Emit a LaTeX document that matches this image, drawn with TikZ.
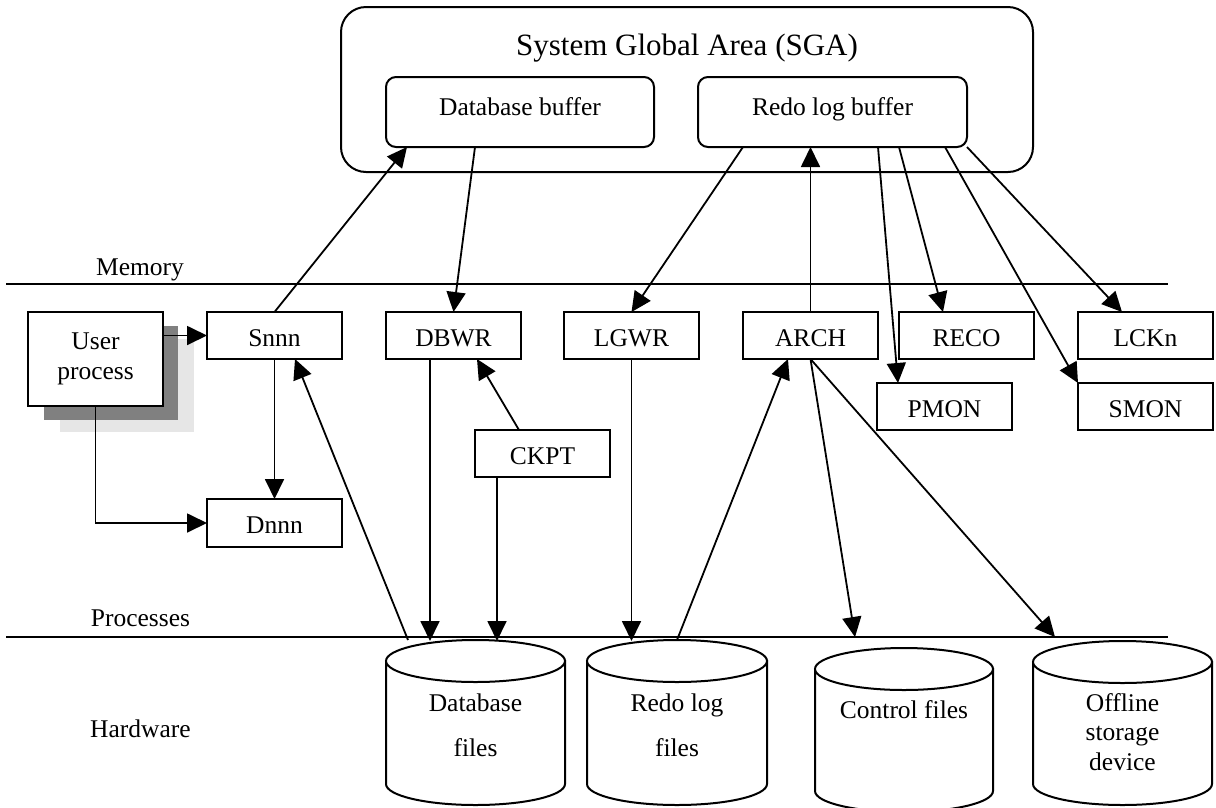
\documentclass[tikz,border=0pt]{standalone}
\usepackage{fontspec}
\setmainfont{Liberation Serif}
\usetikzlibrary{arrows.meta,calc}
\newcommand\mycyl[5]{%
  \draw[line width=2pt, fill=white] (#1-#2,#3) -- (#1-#2,#4)
    .. controls (#1-#2,#4+0.552*#5) and (#1-0.552*#2,#4+#5) .. (#1,#4+#5)
    .. controls (#1+0.552*#2,#4+#5) and (#1+#2,#4+0.552*#5) .. (#1+#2,#4)
    -- (#1+#2,#3) -- cycle;
  \draw[line width=2pt, fill=white] (#1,#3) ellipse [x radius=#2, y radius=#5];
}
\begin{document}
\begin{tikzpicture}[x=1pt,y=-1pt,
  lab/.style={font=\fontsize{25.5}{30}\selectfont},
  pbox/.style={draw, line width=2pt, fill=white, inner sep=0pt, outer sep=0pt,
    minimum width=135pt, lab},
  single/.style={minimum height=47pt, text height=21pt, text depth=0pt},
  rbox/.style={draw, line width=2pt, rounded corners=10pt, inner sep=0pt, outer sep=0pt, lab},
  conn/.style={line width=1.8pt, -{Triangle[length=20pt,width=19pt]}},
  sepline/.style={line width=1.8pt},
  shadowdark/.style={fill={rgb,255:red,128;green,128;blue,128}},
  shadowlight/.style={fill={rgb,255:red,230;green,230;blue,230}}
]
\useasboundingbox (0,0) rectangle (1216,807);

% SGA
\node[rbox, rounded corners=25pt, minimum width=692pt, minimum height=165pt,
  font=\fontsize{31}{36}\selectfont, text height=17pt, text depth=86pt]
  (sga) at (687,89.5) {System Global Area (SGA)};
\node[rbox, minimum width=268pt, minimum height=70pt, text height=18pt, text depth=12pt]
  (dbb) at (520,112) {Database buffer};
\node[rbox, minimum width=269pt, minimum height=70pt, text height=18pt, text depth=12pt]
  (rlb) at (832.5,112) {Redo log buffer};

% separator lines and labels
\draw[sepline] (6,284) -- (1168,284);
\draw[sepline] (6,637) -- (1168,637);
\node[lab, anchor=base] (memlab) at (140,275) {Memory};
\node[lab, anchor=base] (proclab) at (140.5,626) {Processes};
\node[lab, anchor=base] (hwlab) at (140.5,737) {Hardware};

% user process with shadows
\fill[shadowlight] (60,339) rectangle (194,432);
\fill[shadowdark] (44,326) rectangle (178,420);
\node[pbox, minimum height=94pt, align=center] (user) at (95.5,359) {User\\process};

% process boxes
\node[pbox, single] (snnn) at (274.5,335.5) {Snnn};
\node[pbox, single, minimum height=48pt] (dnnn) at (274.5,523) {Dnnn};
\node[pbox, single] (dbwr) at (453.5,335.5) {DBWR};
\node[pbox, single] (lgwr) at (631.5,335.5) {LGWR};
\node[pbox, single] (arch) at (810.5,335.5) {ARCH};
\node[pbox, single] (reco) at (966.5,335.5) {RECO};
\node[pbox, single] (lckn) at (1145.5,335.5) {LCKn};
\node[pbox, single] (ckpt) at (542.5,453.5) {CKPT};
\node[pbox, single] (pmon) at (944.5,406.5) {PMON};
\node[pbox, single] (smon) at (1145.5,406.5) {SMON};

% cylinders
\mycyl{475.5}{89.5}{661}{784}{21}
\mycyl{677}{90}{661}{784}{21}
\mycyl{904}{89}{669}{791}{21}
\mycyl{1122.5}{89.5}{662}{784}{21}
\node[font=\fontsize{25.5}{45}\selectfont, align=center, anchor=base] (dbf) at (475.5,756) {Database\\files};
\node[font=\fontsize{25.5}{45}\selectfont, align=center, anchor=base] (rlf) at (677,756) {Redo log\\files};
\node[lab, anchor=base] (ctl) at (904,718) {Control files};
\node[font=\fontsize{25.5}{29.5}\selectfont, align=center, anchor=base] (off) at (1122.5,770) {Offline\\storage\\device};

\coordinate (dbf-snnn) at (408,640);
\coordinate (dbf-dbwr) at (430,641);
\coordinate (dbf-ckpt) at (497,641);
\coordinate (rlf-lgwr) at (631.5,641);
\coordinate (rlf-arch) at (677,640);
\coordinate (ctl-in) at (855,637);
\coordinate (off-in) at (1055,637);

% connectors
\draw[conn] (user.east |- snnn.west) -- (snnn.west);
\draw[conn] (user.south) |- (dnnn.west);
\draw[conn] (snnn.south) -- (dnnn.north);
\draw[conn] (snnn.north) -- ($(dbb.south west)+(21,0)$);
\draw[conn] ($(dbb.south west)+(89,0)$) -- (dbwr.north);
\draw[conn] ($(dbwr.south west)+(44,0)$) -- (dbf-dbwr);
\draw[conn] ($(ckpt.south west)+(22,0)$) -- (dbf-ckpt);
\draw[conn] ($(ckpt.north west)+(44,0)$) -- ($(dbwr.south west)+(91,0)$);
\draw[conn] (dbf-snnn) -- ($(snnn.south west)+(88,0)$);
\draw[conn] (lgwr.south) -- (rlf-lgwr);
\draw[conn] ($(rlb.south west)+(45,0)$) -- (lgwr.north);
\draw[conn] (rlf-arch) -- ($(arch.south west)+(45,0)$);
\draw[conn] (arch.north) -- (arch.north |- rlb.south);
\draw[conn] (arch.south) -- (ctl-in);
\draw[conn] (arch.south) -- (off-in);
\draw[conn] ($(rlb.south west)+(180,0)$) -- ($(pmon.north west)+(21,0)$);
\draw[conn] ($(rlb.south west)+(201,0)$) -- ($(reco.north west)+(44,0)$);
\draw[conn] ($(rlb.south west)+(247,0)$) -- (smon.north west);
\draw[conn] (rlb.south east) -- ($(lckn.north west)+(44,0)$);
\end{tikzpicture}
\end{document}
